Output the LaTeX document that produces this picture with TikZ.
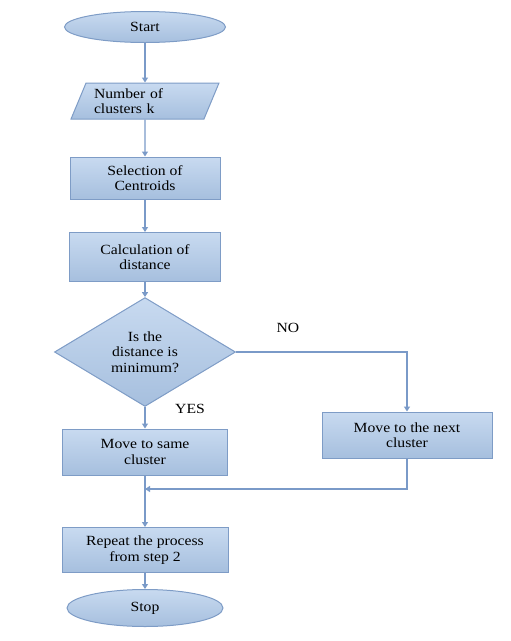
\documentclass[tikz,border=0pt]{standalone}
\usepackage{fontspec}
\setmainfont{Liberation Serif}[FakeStretch=1.12]
\usetikzlibrary{shapes.geometric,arrows.meta}
\definecolor{boxtop}{RGB}{200,218,240}
\definecolor{boxbot}{RGB}{166,191,222}
\definecolor{boxline}{RGB}{126,156,198}
\definecolor{conn}{RGB}{122,154,200}
\tikzset{
  x=1pt,y=-1pt,
  base/.style={draw=boxline,line width=1pt,top color=boxtop,bottom color=boxbot,
    font=\fontsize{14}{15.5}\selectfont,text=black,inner sep=0pt},
  term/.style={base,ellipse},
  procbox/.style={base,rectangle,align=center},
  iobox/.style={base,trapezium,trapezium left angle=63,trapezium right angle=117,
    trapezium stretches=true,align=left},
  decision/.style={base,diamond,align=center},
  conn/.style={draw=conn,line width=1.3pt,-{Triangle[length=5pt,width=6pt]}},
  lbl/.style={font=\fontsize{14}{16}\selectfont,text=black}
}
\begin{document}
\begin{tikzpicture}
\useasboundingbox (0,0) rectangle (511,641);
\node[term,minimum width=161,minimum height=31] (start) at (145,27) {Start};
\node[iobox,minimum width=148,minimum height=36,text width=102pt] (param) at (145,101) {Number of\\clusters k};
\node[procbox,minimum width=150,minimum height=42] (sel) at (145,178) {Selection of\\Centroids};
\node[procbox,minimum width=151,minimum height=49] (calc) at (145,257) {Calculation of\\distance};
\node[decision,minimum width=181,minimum height=105] (dec) at (145,352) {Is the\\distance is\\minimum?};
\node[procbox,minimum width=165,minimum height=46] (same) at (145,452) {Move to same\\cluster};
\node[procbox,minimum width=170,minimum height=46] (next) at (407,435) {Move to the next\\cluster};
\node[procbox,minimum width=166,minimum height=45] (rep) at (145,550) {Repeat the process\\from step 2};
\node[term,minimum width=156,minimum height=37] (stop) at (145,608) {Stop};
\coordinate (merge) at (145,489);
\node[lbl] (no) at (288,328) {NO};
\node[lbl] (yes) at (190,409) {YES};
\draw[conn] (start) -- (param);
\draw[conn] (param) -- (sel);
\draw[conn] (sel) -- (calc);
\draw[conn] (calc) -- (dec);
\draw[conn] (dec) -- (same);
\draw[conn] (dec.east) -| (next.north);
\draw[conn] (next.south) |- (merge);
\draw[conn] (same) -- (rep);
\draw[conn] (rep) -- (stop);
\end{tikzpicture}
\end{document}
